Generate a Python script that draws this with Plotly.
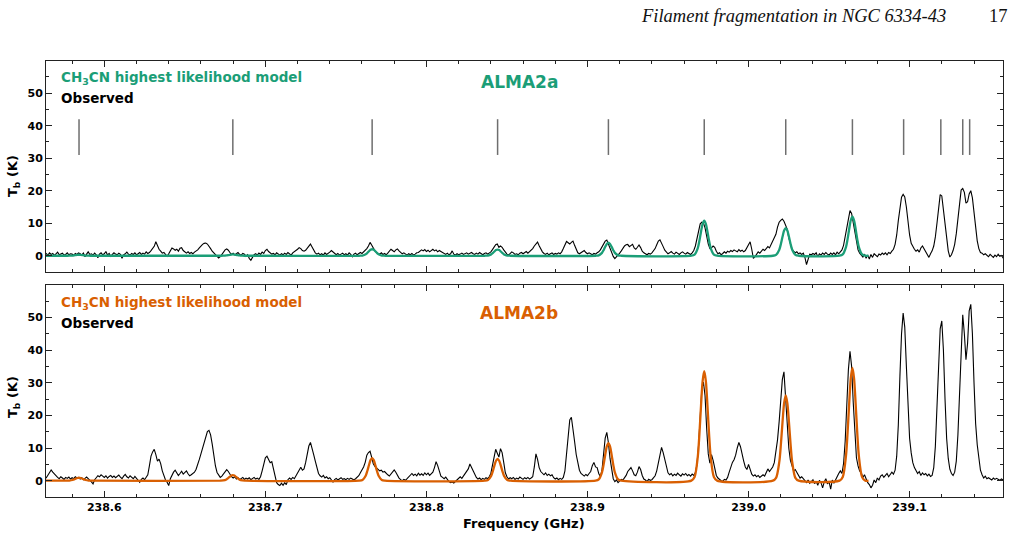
import numpy as np
import plotly.graph_objects as go

# ---------------- data ----------------
freq_start = 238.560   # GHz, first channel
freq_step = 0.001      # GHz, channel width
n_chan = 601
freq = np.round(freq_start + freq_step * np.arange(n_chan), 4)

# Observed spectrum, ALMA2a (K), 10 channels per row
obs_a = [
    0.3, 0.8, 0.5, 1.0, 0.6, 0.2, 0.9, 0.4, 0.7, 0.1,
    0.6, 1.1, 0.3, 0.5, 0.8, 0.2, 0.4, 0.9, 0.3, 0.6,
    0.5, 0.1, 0.7, 0.4, 0.9, 0.6, 0.2, 0.8, -0.3, 0.5,
    1.2, 0.4, 0.6, 0.2, 0.8, 0.3, -0.6, 0.5, 0.9, 0.3,
    0.6, 1.3, 0.2, 0.7, -0.2, 0.4, 0.9, 0.5, 0.3, 0.8,
    0.4, -0.8, 0.3, 0.6, 1.1, 0.5, 0.2, 0.7, 0.4, 0.9,
    0.3, 0.6, 1.0, 0.4, 0.8, 0.5, 1.2, 0.7, 1.0, 1.6,
    2.2, 2.9, 4.3, 3.0, 2.0, 1.4, 0.8, 1.0, 0.4, -0.2,
    0.6, 1.5, 2.4, 2.1, 1.7, 2.0, 1.4, 2.3, 2.5, 1.6,
    1.1, 0.8, 1.2, 0.7, 1.0, 0.6, 1.1, 1.4, 1.8, 2.4,
    3.0, 3.5, 3.8, 3.9, 3.6, 3.0, 2.2, 1.4, 0.8, 0.2,
    -0.4, -0.7, -0.3, 0.5, 1.2, 1.8, 2.1, 1.7, 1.0, 0.4,
    0.8, 0.3, 0.6, 1.0, 0.4, 0.2, 0.7, 0.5, -0.2, 0.3,
    -0.8, -1.4, -0.5, 0.3, 0.6, 0.2, 0.8, 0.4, 1.1, 0.7,
    1.6, 2.0, 1.3, 0.9, 0.5, 0.7, 0.3, 0.9, 0.5, 0.2,
    0.6, 0.3, 0.8, 0.4, 1.0, 0.6, 0.2, 0.9, 1.2, 1.6,
    2.0, 2.5, 2.2, 1.6, 1.4, 1.7, 2.4, 3.2, 3.6, 2.7,
    1.6, 0.9, 0.5, 0.8, 0.3, 0.6, 0.2, 0.9, 0.4, 0.7,
    1.1, 1.6, 1.2, 0.6, 0.3, 0.7, 0.2, 0.5, 0.8, 0.3,
    0.6, 0.2, 0.9, 0.4, -0.3, 0.5, 0.8, 0.3, 0.6, 1.0,
    0.7, 1.2, 1.6, 2.2, 3.0, 4.1, 3.3, 2.2, 1.5, 1.0,
    0.8, 0.5, 0.9, 0.4, 0.7, 0.3, 0.8, 1.5, 2.0, 1.6,
    1.2, 1.8, 2.1, 1.5, 1.0, 0.6, 0.9, 0.4, 0.2, 0.6,
    0.3, 0.7, 0.2, 0.5, 0.9, 1.0, 1.4, 1.8, 1.5, 1.9,
    1.3, 1.7, 1.2, 1.6, 2.0, 1.5, 1.8, 1.2, 1.6, 1.3,
    1.0, 0.7, 0.4, 0.8, 0.3, 0.6, 1.5, 0.5, 0.2, 0.6,
    0.3, 0.5, 0.8, 0.4, 0.6, 0.9, 0.5, 0.7, 1.0, 0.6,
    0.4, 0.8, 0.5, 1.0, 0.6, 0.3, 0.7, 0.9, 0.5, 0.8,
    1.2, 1.9, 2.8, 3.4, 3.6, 2.6, 3.0, 2.6, 1.8, 1.0,
    0.5, 0.2, 0.7, 1.2, 0.9, 0.4, 0.6, 0.3, 0.8, 1.0,
    0.6, 0.9, 1.3, 0.8, 1.2, 1.6, 2.2, 3.0, 3.6, 4.2,
    3.1, 2.0, 1.2, 0.7, 0.4, 0.8, 0.3, 0.6, 0.9, 0.4,
    0.7, 0.5, 0.9, 0.6, 1.2, 2.2, 3.5, 4.4, 4.0, 3.6,
    4.1, 4.5, 3.2, 1.8, 0.9, 0.6, 1.0, 1.3, 1.6, 1.0,
    0.6, 0.9, 0.5, 0.3, 0.7, 0.5, 0.9, 1.2, 1.8, 2.6,
    3.6, 4.5, 4.8, 3.6, 2.0, 0.9, -0.2, -0.9, -0.4, 0.3,
    0.8, 1.5, 2.4, 3.0, 3.4, 3.5, 2.8, 3.2, 3.5, 2.4,
    2.0, 2.6, 3.3, 2.5, 1.4, 0.9, 0.6, 0.3, 0.7, 0.5,
    0.9, 1.4, 2.2, 3.4, 4.5, 4.9, 4.0, 2.8, 1.7, 1.0,
    0.6, 0.9, 1.3, 0.8, 0.5, 1.1, 0.7, 0.4, 0.9, 1.2,
    0.8, 0.5, 1.0, 0.7, 0.4, 0.9, 1.6, 3.0, 5.6, 8.2,
    9.8, 10.3, 10.1, 8.6, 6.0, 3.6, 2.2, 2.4, 3.0, 2.6,
    1.4, 0.6, 0.9, 0.3, 0.7, 1.2, 0.8, 1.4, 1.1, 1.6,
    1.3, 1.8, 1.5, 1.2, 1.9, 1.4, 1.7, 1.2, 1.6, 2.4,
    3.4, 4.3, 2.0, -0.8, -0.3, 0.6, 1.2, 0.8, 1.5, 2.0,
    1.6, 2.3, 2.8, 2.4, 3.4, 4.8, 5.4, 6.6, 8.8, 10.3,
    10.9, 11.3, 10.6, 9.6, 8.2, 5.5, 3.4, 2.0, 1.4, 0.9,
    1.2, 0.6, 0.9, 0.4, 0.8, -0.5, -2.7, -0.8, 0.5, 0.3,
    0.7, 0.4, 0.9, -0.3, 0.6, 0.2, 0.8, 0.4, 1.0, 0.5,
    0.2, 0.8, 0.4, 0.9, 0.3, 1.1, 0.6, 1.2, 1.8, 3.2,
    6.0, 9.5, 12.2, 13.9, 13.0, 10.0, 6.5, 3.6, 1.8, 0.8,
    0.3, -0.4, 0.5, -0.8, 0.2, -1.0, 0.4, -0.5, 0.6, 0.1,
    -0.3, 0.5, 0.2, 0.8, 0.4, 0.9, 0.3, 1.0, 0.7, 1.4,
    2.0, 3.5, 6.4, 10.8, 15.2, 18.0, 18.9, 18.1, 15.0, 10.5,
    6.4, 3.8, 2.6, 2.0, 1.4, 1.8, 1.1, 2.4, 3.0, 2.2,
    1.3, 0.4, -0.5, 0.6, 1.5, 3.0, 5.8, 10.0, 15.2, 18.8,
    18.4, 14.0, 8.6, 4.4, 1.5, -0.4, 0.3, 1.6, 3.5, 6.8,
    11.6, 16.8, 20.2, 20.7, 19.5, 16.2, 16.6, 19.0, 20.0, 17.8,
    13.5, 8.5, 4.6, 2.2, 1.0, 0.8, 0.3, 0.6, 0.1, -0.3,
    0.4, 0.0, -0.5, 0.2, -0.3, 0.5, -0.2, 0.1, -0.6, 0.2,
    -0.2,
]

# Observed spectrum, ALMA2b (K)
obs_b = [
    0.2, 0.8, 0.5, 1.3, 0.9, 1.8, 2.8, 3.3, 2.6, 2.0,
    1.4, 1.0, 0.6, 1.2, 0.8, 0.4, 1.0, 0.7, 1.1, 0.5,
    0.9, 0.6, 1.2, 0.8, 1.0, 0.5, 0.9, 0.3, 0.7, 1.1,
    0.6, 0.2, -0.4, -1.0, 0.3, 0.9, 1.5, 1.2, 1.8, 1.4,
    1.0, 1.5, 0.8, 1.3, 1.6, 1.0, 1.4, 0.9, 1.2, 1.7,
    1.1, 0.6, 1.4, 1.9, 1.2, 0.8, 1.5, 1.0, 0.6, 1.3,
    0.7, 0.2, -0.5, 0.4, 0.8, 0.3, 0.9, 1.8, 4.5, 7.5,
    8.8, 9.6, 8.0, 6.0, 6.6, 5.2, 3.0, 1.4, 0.2, -0.5,
    -1.5, 0.6, 1.8, 2.6, 3.2, 2.4, 1.6, 2.2, 2.9, 2.0,
    2.4, 3.0, 2.1, 1.5, 1.8, 2.2, 2.6, 3.5, 4.8, 6.5,
    8.2, 10.0, 12.2, 13.8, 15.0, 15.4, 14.0, 11.2, 7.4, 4.5,
    2.5, 1.6, 1.0, 1.4, 2.2, 3.0, 3.4, 2.8, 1.8, 1.2,
    0.8, 1.2, 0.5, 0.9, 0.3, 0.7, 1.0, 0.4, 0.8, 0.5,
    0.9, 0.3, 0.6, 1.0, 0.5, 0.8, 0.4, 1.2, 3.0, 5.6,
    7.0, 7.5, 6.2, 5.5, 5.8, 3.5, 1.2, -0.6, -1.2, -1.5,
    -0.8, -1.4, -0.6, -1.2, 0.3, 0.8, 0.4, 1.0, 0.6, 1.5,
    2.5, 3.6, 4.1, 3.2, 3.6, 5.5, 8.4, 10.6, 11.7, 10.2,
    8.0, 6.0, 4.0, 2.2, 1.5, 1.1, 1.6, 0.8, 1.2, 0.6,
    0.9, 0.2, -0.4, 0.3, 0.7, 0.2, 0.5, 0.9, 0.4, 0.6,
    0.3, 0.7, 0.4, 0.8, 0.5, 0.2, 0.6, 1.0, 1.5, 2.4,
    3.2, 4.2, 5.6, 7.8, 8.6, 9.0, 7.2, 5.2, 4.4, 4.0,
    3.4, 3.0, 3.2, 2.6, 2.8, 2.2, 1.8, 1.4, 2.0, 2.8,
    3.3, 2.6, 1.6, 0.8, 0.3, 0.0, 0.4, 0.1, 0.6, 1.2,
    1.8, 2.2, 1.6, 2.0, 1.5, 2.3, 1.7, 2.1, 1.6, 2.4,
    1.8, 2.3, 1.6, 2.0, 2.6, 4.0, 5.8, 4.6, 2.8, 1.4,
    1.0, 0.6, 1.1, 0.4, -0.3, -0.6, -0.4, -0.7, -0.2, 0.3,
    0.8, 1.2, 0.7, 1.4, 2.2, 3.0, 3.6, 5.1, 4.0, 3.0,
    1.8, 1.0, 0.5, 0.8, 0.3, 0.7, 0.4, 0.9, 0.6, 1.2,
    2.2, 4.4, 7.5, 9.6, 8.4, 7.2, 9.8, 8.6, 5.6, 2.4,
    1.2, 0.5, 0.9, 0.6, 1.0, 0.4, 0.8, 0.5, 1.1, 0.7,
    0.4, 0.9, 0.6, 1.0, 0.5, 0.8, 1.2, 4.2, 8.2, 6.5,
    4.0, 2.8, 2.2, 1.8, 2.4, 1.6, 2.0, 1.5, 1.8, 0.9,
    0.5, 0.8, 0.3, 0.7, 0.4, 1.0, 3.0, 8.0, 14.5, 18.6,
    19.4, 16.4, 12.0, 8.0, 5.0, 3.2, 2.2, 1.8, 1.4, 1.9,
    1.5, 2.2, 2.8, 4.6, 5.6, 4.2, 4.0, 2.2, 1.2, 3.2,
    8.5, 13.0, 14.8, 11.6, 6.8, 2.8, 0.6, -0.3, 0.2, -0.6,
    -0.2, 0.4, 0.2, 0.8, 1.6, 2.8, 3.6, 4.0, 3.0, 1.8,
    1.5, 2.6, 4.3, 3.4, 1.6, 0.5, 0.2, -0.3, 0.4, 0.1,
    0.3, 0.8, 1.5, 3.0, 5.2, 8.2, 10.2, 8.6, 6.2, 4.2,
    2.4, 1.8, 2.2, 1.5, 2.0, 1.6, 2.3, 1.8, 1.4, 2.1,
    1.7, 2.2, 1.5, 1.9, 1.4, 2.0, 1.6, 2.5, 5.0, 11.0,
    20.5, 28.0, 30.2, 26.0, 16.0, 8.2, 5.4, 8.0, 6.2, 3.2,
    1.6, 0.8, 0.3, 0.0, -0.2, 0.4, 0.2, 1.0, 2.6, 4.2,
    5.6, 6.4, 7.8, 10.0, 11.7, 10.4, 7.8, 6.0, 4.2, 3.4,
    5.0, 3.6, 2.0, 1.4, 1.8, 1.2, 1.6, 1.0, 1.4, 1.8,
    1.4, 2.4, 3.6, 2.8, 3.4, 4.2, 5.5, 8.5, 12.5, 18.0,
    25.5, 31.0, 33.3, 26.0, 16.5, 10.0, 6.2, 4.4, 3.0, 3.4,
    2.4, 1.6, 0.8, 1.2, 0.4, 0.0, -0.6, 0.2, -0.8, -0.3,
    0.3, -0.9, -0.2, -1.4, 0.1, -0.6, -2.2, -0.4, 0.6, -1.0,
    -0.3, -2.6, 0.2, -0.8, 0.5, 1.2, 2.2, 3.0, 2.2, 5.2,
    12.0, 24.5, 34.0, 39.6, 35.0, 24.0, 13.0, 7.0, 4.5, 3.0,
    2.4, 1.0, 1.8, 0.4, -0.6, -1.2, -2.2, -1.4, 0.2, -0.6,
    0.8, 0.2, 1.4, 1.8, 1.0, 1.6, 2.2, 1.2, 2.0, 2.6,
    2.0, 3.2, 7.5, 17.0, 32.0, 45.0, 51.3, 47.0, 35.0, 22.0,
    13.0, 8.5, 5.5, 4.0, 3.0, 2.2, 2.8, 1.6, 2.4, 1.8,
    2.2, 1.5, 2.0, 1.3, 1.6, 4.0, 10.5, 22.0, 36.0, 46.5,
    48.9, 40.0, 25.0, 13.0, 6.8, 3.5, 2.2, 1.6, 2.6, 6.0,
    14.0, 28.0, 42.0, 50.8, 45.0, 37.0, 42.0, 52.0, 54.0, 45.0,
    30.0, 17.5, 11.0, 6.5, 3.2, 1.8, 0.8, 1.4, 0.6, 0.9,
    0.5, 0.2, 0.8, 0.4, 0.7, 0.3, 0.1, 0.5, 0.2, 0.4,
    0.1,
]

# Highest-likelihood CH3CN model, sampled around each K component
model_freq = [
    238.5600,
    238.5763, 238.5783, 238.5803, 238.5813, 238.5823, 238.5833, 238.5843, 238.5853, 238.5863, 238.5873, 238.5883, 238.5903, 238.5923,
    238.6718, 238.6738, 238.6758, 238.6768, 238.6778, 238.6788, 238.6798, 238.6808, 238.6818, 238.6828, 238.6838, 238.6858, 238.6878,
    238.7583, 238.7603, 238.7623, 238.7633, 238.7643, 238.7653, 238.7663, 238.7673, 238.7683, 238.7693, 238.7703, 238.7723, 238.7743,
    238.8362, 238.8382, 238.8402, 238.8412, 238.8422, 238.8432, 238.8442, 238.8452, 238.8462, 238.8472, 238.8482, 238.8502, 238.8522,
    238.9050, 238.9070, 238.9090, 238.9100, 238.9110, 238.9120, 238.9130, 238.9140, 238.9150, 238.9160, 238.9170, 238.9190, 238.9210,
    238.9645, 238.9665, 238.9685, 238.9695, 238.9705, 238.9715, 238.9725, 238.9735, 238.9745, 238.9755, 238.9765, 238.9785, 238.9805,
    239.0151, 239.0171, 239.0191, 239.0201, 239.0211, 239.0221, 239.0231, 239.0241, 239.0251, 239.0261, 239.0271, 239.0291, 239.0311,
    239.0565, 239.0585, 239.0605, 239.0615, 239.0625, 239.0635, 239.0645, 239.0655, 239.0665, 239.0675, 239.0685, 239.0705, 239.0725,
    239.0745,
]
model_a = [
    0.0,
    0, 0.01, 0.07, 0.13, 0.21, 0.27, 0.30, 0.27, 0.21, 0.13, 0.07, 0.01, 0,
    0, 0.01, 0.09, 0.17, 0.27, 0.36, 0.40, 0.36, 0.27, 0.17, 0.09, 0.01, 0,
    0, 0.07, 0.44, 0.85, 1.37, 1.82, 2.00, 1.82, 1.37, 0.85, 0.44, 0.07, 0,
    0, 0.06, 0.42, 0.81, 1.30, 1.73, 1.90, 1.73, 1.30, 0.81, 0.42, 0.06, 0,
    0, 0.13, 0.88, 1.71, 2.74, 3.64, 4.00, 3.64, 2.74, 1.71, 0.88, 0.13, 0,
    0, 0.36, 2.38, 4.61, 7.40, 9.83, 10.80, 9.83, 7.40, 4.61, 2.38, 0.36, 0,
    0, 0.28, 1.87, 3.63, 5.82, 7.74, 8.50, 7.74, 5.82, 3.63, 1.87, 0.28, 0,
    0, 0.40, 2.64, 5.12, 8.22, 10.92, 12.00, 10.92, 8.22, 5.12, 2.64, 0.40, 0,
    0.0,
]
model_b = [
    0.0,
    0, 0.03, 0.20, 0.38, 0.62, 0.82, 0.90, 0.82, 0.62, 0.38, 0.20, 0.03, 0,
    0, 0.06, 0.37, 0.73, 1.16, 1.55, 1.70, 1.55, 1.16, 0.73, 0.37, 0.06, 0,
    0, 0.23, 1.52, 2.95, 4.73, 6.28, 6.90, 6.28, 4.73, 2.95, 1.52, 0.23, 0,
    0, 0.22, 1.47, 2.86, 4.59, 6.10, 6.70, 6.10, 4.59, 2.86, 1.47, 0.22, 0,
    0, 0.38, 2.53, 4.91, 7.88, 10.47, 11.50, 10.47, 7.88, 4.91, 2.53, 0.38, 0,
    0, 1.11, 7.37, 14.30, 22.95, 30.49, 33.50, 30.49, 22.95, 14.30, 7.37, 1.11, 0,
    0, 0.86, 5.74, 11.14, 17.88, 23.75, 26.10, 23.75, 17.88, 11.14, 5.74, 0.86, 0,
    0, 1.14, 7.59, 14.73, 23.63, 31.40, 34.50, 31.40, 23.63, 14.73, 7.59, 1.14, 0,
    0.0,
]

# CH3CN (13-12) K-ladder rest frequencies (GHz), K = 11 ... 0
line_freqs = [238.5843, 238.6798, 238.7663, 238.8442, 238.9130, 238.9725,
              239.0231, 239.0645, 239.0963, 239.1194, 239.1330, 239.1373]
marker_lo, marker_hi = 31.0, 42.0

y_tick_values = [0, 10, 20, 30, 40, 50]
panel_names = ["ALMA2a", "ALMA2b"]
model_label = "CH<sub>3</sub>CN highest likelihood model"
obs_label = "Observed"
x_title = "Frequency (GHz)"
y_title = "T<sub>b</sub> (K)"
header_text = "Filament fragmentation in NGC 6334-43"
page_number = "17"

assert len(obs_a) == n_chan and len(obs_b) == n_chan
assert len(model_freq) == len(model_a) == len(model_b)

# ---------------- style ----------------
GREEN = "#1b9e77"
ORANGE = "#d95f02"
FONT = "DejaVu Sans"
W, H = 1016, 537
ML, MR, MT, MB = 46, 13, 61, 40
x_range = [238.5638, 239.1580]
y_range = [-5, 59.9]

fig = go.Figure()

# marker lines (top panel)
mx, my = [], []
for f in line_freqs:
    mx += [f, f, None]
    my += [marker_lo, marker_hi, None]
fig.add_trace(go.Scatter(x=mx, y=my, mode="lines", line=dict(color="#6e6e6e", width=1.5),
                         xaxis="x", yaxis="y", showlegend=False, hoverinfo="skip"))

for k, (obs, model, col) in enumerate([(obs_a, model_a, GREEN), (obs_b, model_b, ORANGE)]):
    xa = "x" if k == 0 else "x2"
    ya = "y" if k == 0 else "y2"
    fig.add_trace(go.Scatter(x=freq, y=obs, mode="lines", line=dict(color="black", width=1.1),
                             xaxis=xa, yaxis=ya, showlegend=False))
    fig.add_trace(go.Scatter(x=model_freq, y=model, mode="lines",
                             line=dict(color=col, width=2.3, shape="spline", smoothing=0.8),
                             xaxis=xa, yaxis=ya, showlegend=False))

plot_h = H - MT - MB
plot_w = W - ML - MR
def py(ypx):
    return (H - MB - ypx) / plot_h
def px(xpx):
    return (xpx - ML) / plot_w

top_dom = [py(272), 1.0]
bot_dom = [0.0, py(285)]

axis_common = dict(
    showline=True, linecolor="#222", linewidth=1, mirror="allticks",
    ticks="inside", ticklen=6, tickwidth=1, tickcolor="#222",
    showgrid=False, zeroline=False,
    tickfont=dict(family=FONT, size=11, color="black", weight="bold"),
)
xaxis_common = dict(axis_common, range=x_range, tick0=238.6, dtick=0.1, tickformat=".1f",
                    minor=dict(ticks="inside", ticklen=3, dtick=0.02, tick0=238.6, tickcolor="#222", showgrid=False))
yaxis_common = dict(axis_common, range=y_range, tickmode="array", tickvals=y_tick_values,
                    minor=dict(ticks="inside", ticklen=3, dtick=5, tick0=0, tickcolor="#222", showgrid=False))

fig.update_layout(
    width=W, height=H,
    margin=dict(l=ML, r=MR, t=MT, b=MB),
    paper_bgcolor="white", plot_bgcolor="white",
    xaxis=dict(xaxis_common, domain=[0, 1], anchor="y", showticklabels=False),
    yaxis=dict(yaxis_common, domain=top_dom, anchor="x"),
    xaxis2=dict(xaxis_common, domain=[0, 1], anchor="y2", ticklabelstandoff=0),
    yaxis2=dict(yaxis_common, domain=bot_dom, anchor="x2"),
    showlegend=False,
)

ann = []
legend_font = dict(family=FONT, size=13.5, weight="bold")
for k, (col, y_mod, y_obs, y_name) in enumerate([
        (GREEN, 78.3, 98.3, 82.3), (ORANGE, 303.3, 323.3, 313.3)]):
    ann.append(dict(text=model_label, x=px(59), y=py(y_mod), xref="paper", yref="paper",
                    xanchor="left", yanchor="middle", showarrow=False,
                    font=dict(legend_font, color=col)))
    ann.append(dict(text=obs_label, x=px(59), y=py(y_obs), xref="paper", yref="paper",
                    xanchor="left", yanchor="middle", showarrow=False,
                    font=dict(legend_font, color="black")))
    ann.append(dict(text=panel_names[k], x=px(519), y=py(y_name), xref="paper", yref="paper",
                    xanchor="center", yanchor="middle", showarrow=False,
                    font=dict(family=FONT, size=17, weight="bold", color=col)))

for ycen in (176.0, 397.0):
    ann.append(dict(text=y_title, x=px(13), y=py(ycen), xref="paper", yref="paper",
                    xanchor="center", yanchor="middle", textangle=-90, showarrow=False,
                    font=dict(family=FONT, size=13, weight="bold", color="black")))

ann.append(dict(text=x_title, x=px(524), y=py(523), xref="paper", yref="paper",
                xanchor="center", yanchor="middle", showarrow=False,
                font=dict(family=FONT, size=13, weight="bold", color="black")))

ann.append(dict(text="<i>" + header_text + "</i>", x=px(948), y=py(16), xref="paper", yref="paper",
                xanchor="right", yanchor="middle", showarrow=False,
                font=dict(family="Liberation Serif", size=18.5, color="#111")))
ann.append(dict(text=page_number, x=px(987), y=py(16), xref="paper", yref="paper",
                xanchor="left", yanchor="middle", showarrow=False,
                font=dict(family="Liberation Serif", size=18.5, color="#111")))

fig.update_layout(annotations=ann)
fig.write_html("out.html")
